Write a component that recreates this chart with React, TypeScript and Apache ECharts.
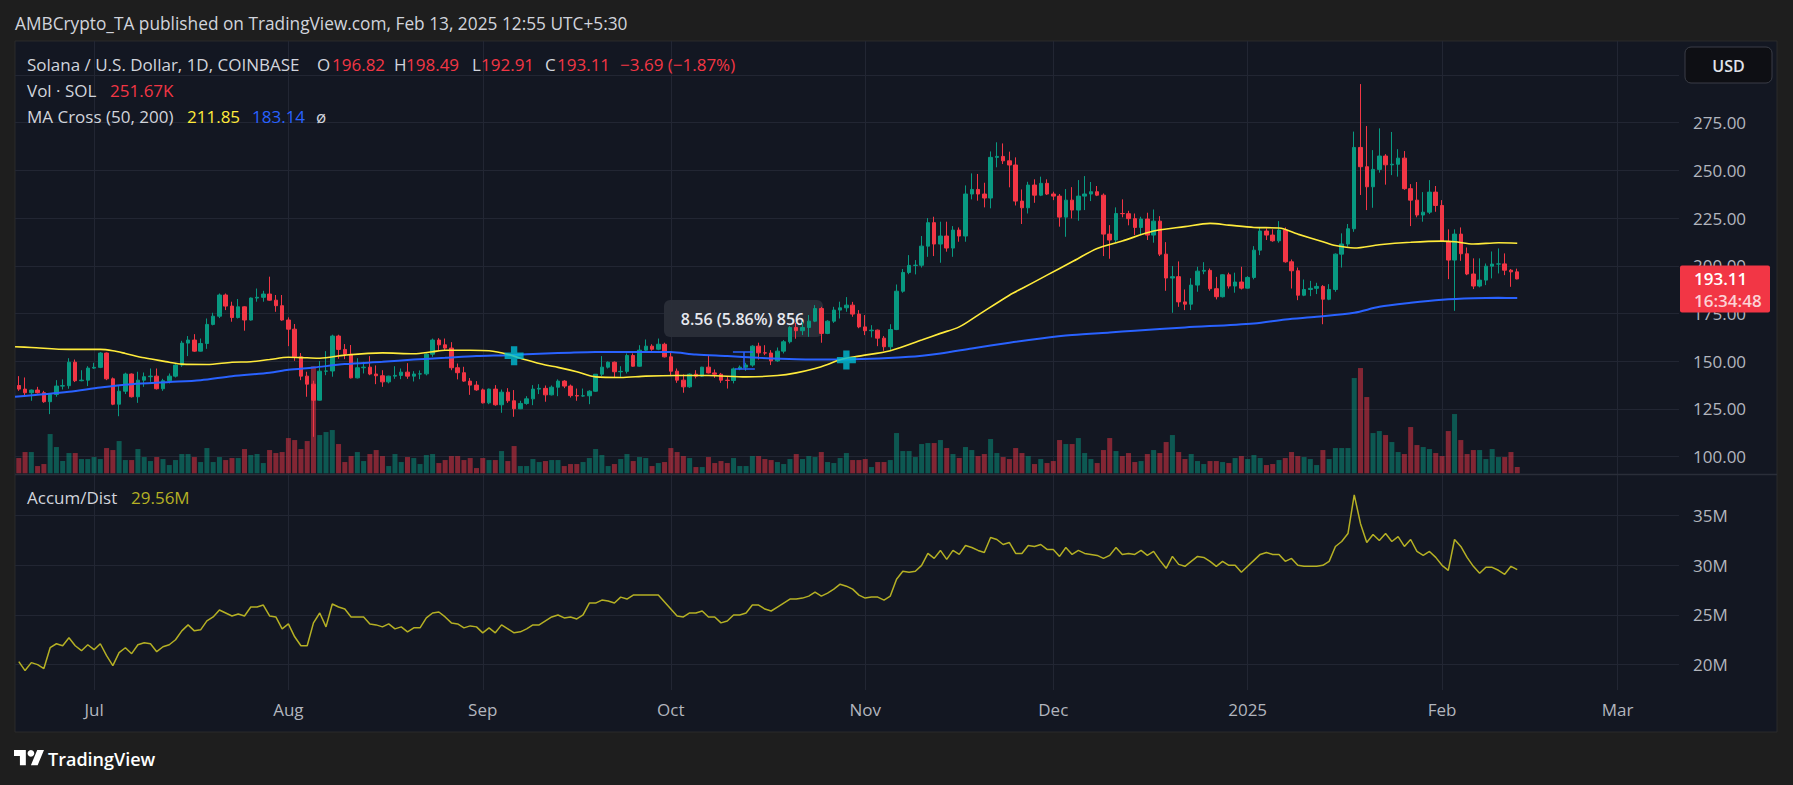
import React, { useEffect, useRef } from "react";
import * as echarts from "echarts";

const FONT = '"Open Sans", "Noto Sans", sans-serif';

// Daily candles, index 0 = 2024-06-19 ... index 239 = 2025-02-13 : [open, high, low, close]
const candles: number[][] = [
  [137.3,142.2,134.5,135.4],[135.4,141.5,132.2,133.5],[133.5,135.2,129.3,134.9],[134.9,136.6,133.1,133.5],[133.5,134.5,128.2,128.8],
  [128.8,132.8,122.3,132.6],[132.6,140.1,131.4,137.0],[137.0,140.5,135.2,137.2],[137.2,151.6,135.6,149.5],[149.5,150.9,139.1,139.8],
  [139.8,145.3,139.5,140.1],[140.1,147.4,137.0,146.4],[146.4,149.2,146.0,146.8],[146.8,154.8,146.4,154.3],[154.3,154.6,140.1,140.8],
  [140.8,141.5,127.0,127.5],[127.5,137.0,121.2,134.3],[134.3,144.0,132.8,143.3],[143.3,143.6,131.0,131.4],[131.4,144.5,128.2,140.1],
  [140.1,144.1,136.6,141.9],[141.9,146.2,139.2,142.2],[142.2,146.2,135.2,135.6],[135.6,140.8,134.5,139.8],[139.8,143.6,138.4,142.2],
  [142.2,148.5,141.5,148.0],[148.0,160.7,147.1,159.5],[159.5,163.2,152.7,161.1],[161.1,164.2,154.9,155.3],[155.3,161.9,155.1,159.3],
  [159.3,172.4,156.5,169.3],[169.3,175.4,168.8,173.6],[173.6,185.5,172.6,184.7],[184.7,185.5,176.8,178.9],[178.9,181.2,170.7,172.9],
  [172.9,182.6,172.4,178.5],[178.5,178.8,166.0,171.6],[171.6,183.4,171.3,183.1],[183.1,188.1,181.2,183.5],[183.5,186.9,181.2,185.2],
  [185.2,194.3,181.7,182.0],[182.0,184.7,175.9,179.1],[179.1,184.7,171.2,171.6],[171.6,173.0,157.9,166.8],[166.8,169.5,150.2,152.3],
  [152.3,154.3,140.1,142.2],[142.2,144.5,131.4,138.0],[138.0,139.8,110.4,129.6],[129.6,150.1,129.4,144.8],[144.8,155.3,142.7,144.9],
  [144.9,163.9,141.9,163.2],[163.2,163.9,151.3,156.2],[156.2,159.0,151.1,153.7],[153.7,158.5,141.0,141.3],[141.3,151.6,141.0,146.6],
  [146.6,149.7,143.6,146.9],[146.9,152.7,142.7,143.3],[143.3,147.8,138.0,142.4],[142.4,145.3,136.6,139.2],[139.2,142.4,138.4,142.2],
  [142.2,147.4,140.8,142.6],[142.6,146.2,140.6,144.3],[144.3,149.0,140.8,142.2],[142.2,144.8,139.4,143.3],[143.3,145.2,140.6,143.4],
  [143.4,154.1,142.6,153.7],[153.7,161.9,152.3,161.1],[161.1,162.1,155.5,158.6],[158.6,161.9,155.5,156.9],[156.9,160.0,145.3,146.6],
  [146.6,148.8,140.5,144.0],[144.0,147.1,139.2,139.6],[139.6,141.2,132.4,137.5],[137.5,139.6,134.5,135.0],[135.0,135.7,127.9,128.2],
  [128.2,135.7,127.5,135.4],[135.4,137.5,126.7,127.2],[127.2,135.2,123.0,133.8],[133.8,135.9,128.2,129.3],[129.3,134.9,120.9,125.1],
  [125.1,129.3,124.9,127.9],[127.9,131.7,127.2,130.3],[130.3,137.5,127.0,135.4],[135.4,138.0,132.8,135.8],[135.8,137.3,128.8,132.4],
  [132.4,137.3,132.1,136.4],[136.4,140.5,131.7,139.6],[139.6,140.1,135.9,137.0],[137.0,137.8,131.0,132.0],[132.0,135.7,129.3,131.8],
  [131.8,135.7,131.4,131.9],[131.9,134.8,127.5,134.3],[134.3,143.2,134.0,143.2],[143.2,152.7,142.2,146.9],[146.9,149.9,146.2,149.5],
  [149.5,149.9,141.5,144.5],[144.5,147.4,141.8,144.7],[144.7,154.1,143.6,153.0],[153.0,154.1,147.1,147.4],[147.4,158.4,147.1,155.8],
  [155.8,161.4,154.8,157.9],[157.9,158.9,155.5,156.3],[156.3,161.9,155.8,158.9],[158.9,159.7,152.0,152.3],[152.3,155.0,142.2,144.8],
  [144.8,146.2,138.7,140.1],[140.1,143.1,133.5,136.6],[136.6,143.6,136.1,143.2],[143.2,145.3,141.0,142.2],[142.2,147.1,141.8,146.9],
  [146.9,152.8,143.6,143.9],[143.9,145.7,141.3,143.2],[143.2,143.9,138.7,140.1],[140.1,142.2,135.7,139.9],[139.9,146.7,138.4,146.0],
  [146.0,147.8,145.3,146.9],[146.9,149.2,145.0,148.0],[148.0,158.4,147.1,157.9],[157.9,159.7,150.9,154.4],[154.4,158.4,153.2,154.3],
  [154.3,155.8,148.0,150.2],[150.2,157.2,149.7,155.3],[155.3,161.1,154.1,160.2],[160.2,168.4,159.3,167.7],[167.7,170.1,161.8,166.0],
  [166.0,170.7,163.7,167.7],[167.7,174.2,162.8,171.0],[171.0,179.4,170.5,177.6],[177.6,178.5,159.7,164.6],[164.6,171.5,164.2,171.0],
  [171.0,178.5,170.1,176.8],[176.8,181.2,172.4,178.0],[178.0,183.6,175.9,179.4],[179.4,181.1,173.3,174.7],[174.7,176.8,167.3,168.0],
  [168.0,174.2,163.7,166.0],[166.0,168.9,162.5,166.3],[166.3,166.6,157.9,162.1],[162.1,163.2,155.5,157.6],[157.6,169.4,155.8,166.6],
  [166.6,190.2,166.3,186.7],[186.7,198.3,185.9,196.5],[196.5,205.6,195.6,200.2],[200.2,203.0,195.5,200.3],[200.3,215.6,199.1,210.3],
  [210.3,225.0,204.7,222.6],[222.6,225.7,205.1,211.4],[211.4,223.1,201.6,215.6],[215.6,223.1,207.4,209.3],[209.3,220.8,204.7,218.7],
  [218.7,220.1,212.6,215.6],[215.6,242.1,212.6,237.6],[237.6,248.4,234.8,240.0],[240.0,248.1,234.1,237.6],[237.6,243.5,230.6,235.5],
  [235.5,259.9,230.1,256.8],[256.8,264.7,251.6,257.3],[257.3,264.1,253.3,255.0],[255.0,259.8,241.1,252.8],[252.8,256.8,231.6,233.9],
  [233.9,240.0,221.9,230.4],[230.4,244.0,227.4,242.3],[242.3,245.3,233.0,237.0],[237.0,246.7,236.5,243.2],[243.2,245.3,237.1,237.6],
  [237.6,238.8,234.4,236.5],[236.5,237.6,220.5,225.5],[225.5,240.2,215.2,234.4],[234.4,241.2,224.8,229.2],[229.2,244.9,223.6,236.5],
  [236.5,247.0,229.2,237.6],[237.6,243.9,233.9,238.8],[238.8,241.8,236.5,237.0],[237.0,237.9,205.1,216.6],[216.6,221.3,203.7,213.5],
  [213.5,230.6,212.1,227.4],[227.4,234.8,225.4,227.3],[227.3,228.8,221.2,224.7],[224.7,227.4,216.1,220.1],[220.1,225.7,216.1,224.5],
  [224.5,227.8,213.5,216.1],[216.1,229.5,212.1,223.4],[223.4,226.0,205.1,206.1],[206.1,212.4,186.9,193.6],[193.6,199.9,175.4,194.3],
  [194.3,202.3,178.5,181.1],[181.1,187.6,176.8,179.9],[179.9,193.5,176.8,189.9],[189.9,199.5,186.4,197.2],[197.2,201.9,195.6,197.6],
  [197.6,198.6,186.9,188.0],[188.0,194.2,182.4,183.8],[183.8,195.6,183.4,195.3],[195.3,196.4,188.1,189.4],[189.4,196.4,185.9,191.5],
  [191.5,199.5,187.6,188.3],[188.3,194.6,188.1,193.9],[193.9,210.3,192.9,208.2],[208.2,220.1,205.6,218.2],[218.2,219.6,213.5,216.1],
  [216.1,219.1,212.6,213.1],[213.1,223.4,212.1,218.7],[218.7,220.1,201.6,202.1],[202.1,203.3,188.1,197.4],[197.4,199.1,182.0,184.6],
  [184.6,192.8,184.1,187.6],[187.6,192.1,184.1,188.2],[188.2,191.1,185.2,189.2],[189.2,189.9,169.4,182.5],[182.5,190.4,182.0,187.6],
  [187.6,206.5,186.4,206.1],[206.1,217.0,199.1,211.4],[211.4,221.9,210.0,219.4],[219.4,270.3,217.8,262.0],[262.0,295.2,237.1,251.9],
  [251.9,273.2,229.2,241.4],[241.4,260.6,230.4,250.5],[250.5,272.0,248.8,257.5],[257.5,258.5,242.5,252.9],[252.9,270.1,247.5,253.2],
  [253.2,261.1,246.7,256.4],[256.4,260.1,239.8,240.4],[240.4,242.8,220.8,234.4],[234.4,243.9,225.4,226.6],[226.6,238.6,223.1,228.1],
  [228.1,244.9,227.1,238.6],[238.6,241.8,228.3,231.6],[231.6,234.4,212.4,212.8],[212.8,219.1,193.0,203.0],[203.0,219.1,176.4,216.6],
  [216.6,220.1,202.6,206.3],[206.3,209.6,195.1,195.7],[195.7,203.9,187.8,189.4],[189.4,203.9,188.7,192.5],[192.5,201.2,189.9,199.8],
  [199.8,207.5,193.4,200.9],[200.9,209.1,196.0,201.0],[201.0,206.5,195.1,197.7],[197.7,198.3,189.0,196.82],[196.82,198.49,192.91,193.11],
];

// Volume in thousands of SOL, one per candle
const volumesK: number[] = [
  610,850,850,290,370,1570,1050,490,810,810,
  570,570,650,570,1010,930,1290,530,530,970,
  650,490,650,570,330,530,770,770,650,450,
  1010,450,650,530,610,610,970,730,770,410,
  930,810,850,1410,1330,970,1290,4280,1530,1650,
  1730,1170,450,690,850,490,770,930,690,290,
  770,450,650,610,370,730,770,410,530,690,
  690,530,610,210,610,530,530,890,490,1090,
  290,290,570,450,490,530,530,290,370,370,
  450,610,970,730,290,370,570,770,490,650,
  610,290,410,450,1010,850,690,610,250,250,
  650,410,490,410,610,290,290,690,690,570,
  530,450,370,570,770,570,690,650,850,450,
  410,610,810,530,530,570,250,450,450,530,
  1610,890,890,650,1170,1210,1210,1330,1010,770,
  610,1050,930,690,770,1370,810,650,570,1010,
  810,690,370,570,410,490,1330,1170,1170,1410,
  810,570,410,930,1410,890,690,810,450,490,
  770,930,810,1250,1530,850,570,770,490,370,
  490,490,450,410,610,690,570,730,610,330,
  370,530,610,850,690,650,570,330,930,570,
  1010,1010,1010,3810,4210,3050,1610,1690,1530,1250,
  850,770,1850,1130,1050,970,810,690,1690,2370,
  1330,770,930,930,570,970,650,650,850,252,
];

// Accumulation/Distribution, millions, one per candle
const accDist: number[] = [
  20.3,19.4,20.2,20.0,19.6,21.7,22.1,21.9,22.7,21.9,
  21.4,22.0,21.5,22.1,20.9,19.9,21.2,21.7,21.1,22.0,
  22.2,22.1,21.3,21.8,22.0,22.5,23.4,24.0,23.4,23.5,
  24.4,24.8,25.5,25.2,24.9,25.1,24.9,25.8,25.8,26.0,
  24.9,24.8,23.6,24.1,22.8,21.9,21.9,24.2,25.2,23.8,
  26.1,25.8,25.6,24.8,24.8,24.8,24.1,24.0,23.8,24.1,
  23.6,23.8,23.3,23.7,23.7,24.7,25.2,25.3,24.8,24.2,
  24.1,23.7,23.9,23.8,23.2,23.7,23.2,24.0,23.6,23.2,
  23.3,23.6,24.0,24.0,24.4,24.8,25.0,24.7,24.8,24.6,
  25.0,26.2,26.2,26.5,26.4,26.2,26.8,26.6,27.0,27.0,
  27.0,27.0,27.0,26.3,25.6,24.9,24.8,25.2,25.2,25.4,
  24.8,24.8,24.2,24.4,25.0,25.0,25.2,26.0,26.0,25.6,
  25.4,25.8,26.2,26.6,26.6,26.7,26.9,27.3,26.9,27.2,
  27.6,28.1,27.9,27.6,27.0,26.7,26.8,26.8,26.5,26.9,
  28.6,29.4,29.3,29.4,30.0,31.2,30.7,31.5,30.6,31.5,
  31.1,32.0,31.8,31.5,31.3,32.8,32.6,32.1,32.3,31.2,
  31.2,32.0,31.9,32.1,31.6,31.6,30.9,31.8,31.1,31.5,
  31.2,31.1,31.0,30.7,31.0,31.8,31.1,31.2,31.1,31.5,
  31.0,31.4,30.5,29.7,30.9,30.1,29.9,30.4,30.9,30.8,
  30.4,29.9,30.4,30.0,30.0,29.3,29.9,30.5,31.1,31.3,
  31.1,31.1,30.4,30.7,30.0,29.9,29.9,29.9,30.0,30.4,
  31.9,32.4,33.2,37.1,34.2,32.3,33.1,32.5,33.2,32.4,
  32.9,31.9,32.6,31.4,31.0,31.4,30.8,30.0,29.5,32.6,
  31.9,30.8,29.9,29.2,29.8,29.8,29.5,29.1,29.9,29.56,
];

// Moving averages: [dayIndex, value]
const maFast: number[][] = [
  [-0.6,157.6],[2,157.2],[8,156.2],[13,156.2],[15,155.5],[17,154.1],[20,151.8],[24,149.5],[26,148.5],[30,148.3],
  [34,149.5],[37,149.7],[40,150.9],[43,152.1],[46,151.8],[48,151.6],[52,153.2],[58,154.4],[63,153.9],[66,155.0],
  [68,155.8],[72,155.8],[75,155.5],[78,153.6],[81,150.6],[84,148.0],[86,146.8],[89,144.5],[92,141.8],[96,141.5],
  [100,142.2],[105,142.5],[110,142.5],[116,141.8],[121,142.5],[124,143.9],[127,146.2],[129,148.3],[131,150.8],[134,152.7],
  [139,155.5],[144,161.1],[147,164.6],[150,168.0],[153,174.2],[158,184.6],[160,188.1],[164,195.1],[168,202.1],[172,209.1],
  [176,213.0],[181,218.2],[186,220.5],[190,222.2],[193,221.3],[197,220.1],[201,219.8],[204,216.6],[208,212.6],[210,210.6],
  [213,209.3],[217,211.0],[222,212.3],[227,212.9],[229,212.6],[232,211.4],[236,212.1],[239,211.85],
];
const maSlow: number[][] = [
  [-0.6,131.4],[8,134.0],[13,136.3],[18,138.0],[24,139.1],[29,140.1],[34,142.2],[40,144.0],[43,145.5],[47,146.7],
  [52,148.5],[58,149.7],[63,150.9],[68,151.8],[73,152.7],[78,153.2],[84,154.1],[88,154.5],[92,154.8],[100,154.9],
  [104,154.8],[108,153.5],[113,152.7],[118,151.8],[124,151.1],[131,150.9],[142,152.3],[147,154.1],[152,156.7],[158,159.7],
  [163,161.9],[168,163.7],[174,165.1],[178,166.0],[186,167.7],[197,169.8],[202,171.9],[207,173.3],[213,175.4],[217,178.5],
  [222,180.6],[227,182.2],[232,183.0],[236,183.2],[239,183.14],
];

const crossPoints: number[][] = [[79, 152.9], [132, 150.6]];
const rangeSegments: number[][][] = [
  [[113.9, 154.8], [117.1, 154.8]],
  [[115.7, 154.8], [115.7, 146.3]],
  [[114.2, 146.3], [117.4, 146.3]],
];

const monthTicks = [12, 43, 74, 104, 135, 165, 196, 227, 255];
const monthLabels = ["Jul", "Aug", "Sep", "Oct", "Nov", "Dec", "2025", "Feb", "Mar"];
const priceTicks = [100, 125, 150, 175, 200, 225, 250, 275];
const adTicks = [20, 25, 30, 35];

const titleText = "AMBCrypto_TA published on TradingView.com, Feb 13, 2025 12:55 UTC+5:30";
const ohlcText = ["196.82", "198.49", "192.91", "193.11"];
const changeText = "\u22123.69 (\u22121.87%)";
const volText = "251.67K";
const maText = ["211.85", "183.14"];
const adText = "29.56M";
const lastPrice = "193.11";
const countdown = "16:34:48";
const rangeLabel = "8.56 (5.86%) 856";

const X_MIN = -0.606;
const X_MAX = 264.8;

const UP = "#089981";
const DN = "#f23645";
const VOL_UP = "rgba(8,153,129,0.5)";
const VOL_DN = "rgba(242,54,69,0.5)";
const GRID = "#222633";
const AXIS_TXT = "#b2b5be";
const GRAY = "#d1d4dc";
const AD_COLOR = "#b5b024";

const logoPath = "M14 22H7V11H0V4h14v18zM28 22h-8l7.5-18h8L28 22z";
echarts.graphic.registerShape("tvlogo", (echarts.graphic as any).extendPath(logoPath, {}));

function txt(x: number, y: number, text: string, fill: string, size = 17, weight = "normal", align = "left", z = 50) {
  return {
    type: "text",
    x,
    y,
    z,
    silent: true,
    style: { text, fill, font: `${weight} ${size}px ${FONT}`, align, verticalAlign: "middle" },
  };
}

export default function App() {
  const ref = useRef<HTMLDivElement>(null);

  useEffect(() => {
    document.body.style.margin = "0";
    document.body.style.overflow = "hidden";
    if (!ref.current) return;
    const chart = echarts.init(ref.current, null, { renderer: "svg" });

    const gridBase = { left: 15, right: 114 };

    const option: any = {
      animation: false,
      backgroundColor: "#1e1e1e",
      textStyle: { fontFamily: FONT },
      grid: [
        { ...gridBase, top: 74.9, height: 381.8 },
        { ...gridBase, top: 363.3, height: 110 },
        { ...gridBase, top: 515.7, height: 148.9 },
        { ...gridBase, top: 41, height: 649 },
      ],
      xAxis: [
        { type: "value", gridIndex: 0, min: X_MIN, max: X_MAX, show: false },
        { type: "value", gridIndex: 1, min: X_MIN, max: X_MAX, show: false },
        { type: "value", gridIndex: 2, min: X_MIN, max: X_MAX, show: false },
        {
          type: "value",
          gridIndex: 3,
          min: X_MIN,
          max: X_MAX,
          axisLine: { show: false },
          axisTick: { show: false, customValues: monthTicks },
          axisLabel: {
            customValues: monthTicks,
            color: AXIS_TXT,
            fontSize: 17,
            fontFamily: FONT,
            margin: 11,
            formatter: (v: number) => {
              const k = monthTicks.indexOf(Math.round(v));
              return k >= 0 ? monthLabels[k] : "";
            },
          },
          splitLine: { show: true, lineStyle: { color: GRID, width: 1 } },
        },
      ],
      yAxis: [
        {
          type: "value",
          gridIndex: 0,
          position: "right",
          min: 100,
          max: 300,
          interval: 25,
          axisLine: { show: false },
          axisTick: { show: false },
          axisLabel: {
            color: AXIS_TXT,
            fontSize: 17,
            fontFamily: FONT,
            margin: 14,
            formatter: (v: number) => (priceTicks.includes(v) ? v.toFixed(2) : ""),
          },
          splitLine: { show: true, lineStyle: { color: GRID, width: 1 } },
        },
        { type: "value", gridIndex: 1, min: 0, max: 4400, show: false },
        {
          type: "value",
          gridIndex: 2,
          position: "right",
          min: 20,
          max: 35,
          interval: 5,
          axisLine: { show: false },
          axisTick: { show: false },
          axisLabel: {
            color: AXIS_TXT,
            fontSize: 17,
            fontFamily: FONT,
            margin: 14,
            formatter: (v: number) => (adTicks.includes(v) ? `${v}M` : ""),
          },
          splitLine: { show: true, lineStyle: { color: GRID, width: 1 } },
        },
        { type: "value", gridIndex: 3, min: 0, max: 1, show: false },
      ],
      series: [
        {
          type: "bar",
          xAxisIndex: 1,
          yAxisIndex: 1,
          barWidth: 5,
          z: 1,
          silent: true,
          data: volumesK.map((v, i) => ({
            value: [i, v],
            itemStyle: { color: candles[i][3] >= candles[i][0] ? VOL_UP : VOL_DN },
          })),
        },
        {
          type: "candlestick",
          xAxisIndex: 0,
          yAxisIndex: 0,
          barWidth: 4,
          z: 3,
          silent: true,
          dimensions: ["day", "open", "close", "lowest", "highest"],
          encode: { x: 0, y: [1, 2, 3, 4] },
          itemStyle: { color: UP, color0: DN, borderColor: UP, borderColor0: DN, borderWidth: 1 },
          data: candles.map((c, i) => [i, c[0], c[3], c[2], c[1]]),
        },
        {
          type: "line",
          xAxisIndex: 0,
          yAxisIndex: 0,
          data: maSlow,
          showSymbol: false,
          smooth: 0.3,
          z: 4,
          silent: true,
          lineStyle: { color: "#2962ff", width: 2 },
        },
        {
          type: "line",
          xAxisIndex: 0,
          yAxisIndex: 0,
          data: maFast,
          showSymbol: false,
          smooth: 0.3,
          z: 4,
          silent: true,
          lineStyle: { color: "#ffeb3b", width: 1.6 },
        },
        {
          type: "lines",
          coordinateSystem: "cartesian2d",
          xAxisIndex: 0,
          yAxisIndex: 0,
          z: 5,
          silent: true,
          lineStyle: { color: "#2962ff", width: 1.5, opacity: 1 },
          data: rangeSegments.map((s) => ({ coords: s })),
        },
        {
          type: "scatter",
          xAxisIndex: 0,
          yAxisIndex: 0,
          z: 6,
          silent: true,
          symbol: "path://M6,0H12V6H18V12H12V18H6V12H0V6H6Z",
          symbolSize: 19,
          itemStyle: { color: "#00bcd4" },
          data: crossPoints,
        },
        {
          type: "line",
          xAxisIndex: 2,
          yAxisIndex: 2,
          data: accDist.map((v, i) => [i, v]),
          showSymbol: false,
          clip: false,
          silent: true,
          lineStyle: { color: AD_COLOR, width: 1.5 },
        },
      ],
      graphic: {
        elements: [
          {
            type: "rect",
            z: -10,
            silent: true,
            shape: { x: 15, y: 41, width: 1762, height: 691 },
            style: { fill: "#131722", stroke: "#2b2b2b", lineWidth: 1 },
          },
          {
            type: "line",
            z: 10,
            silent: true,
            shape: { x1: 15, y1: 474.5, x2: 1777, y2: 474.5 },
            style: { stroke: "#2a2e39", lineWidth: 1.5 },
          },
          txt(15, 23.5, titleText, "#d1d4dc", 17.3),
          txt(27, 64, "Solana / U.S. Dollar, 1D, COINBASE", GRAY),
          txt(317, 64, "O", GRAY),
          txt(332, 64, ohlcText[0], DN),
          txt(394, 64, "H", GRAY),
          txt(406, 64, ohlcText[1], DN),
          txt(472, 64, "L", GRAY),
          txt(481, 64, ohlcText[2], DN),
          txt(545, 64, "C", GRAY),
          txt(557, 64, ohlcText[3], DN),
          txt(620, 64, changeText, DN),
          txt(27, 90.5, "Vol \u00b7 SOL", GRAY),
          txt(110, 90.5, volText, DN),
          txt(27, 116.5, "MA Cross (50, 200)", GRAY),
          txt(187, 116.5, maText[0], "#ffeb3b"),
          txt(252, 116.5, maText[1], "#2962ff"),
          txt(316, 116.5, "\u00f8", GRAY),
          txt(27, 497, "Accum/Dist", GRAY),
          txt(131, 497, adText, AD_COLOR),
          {
            type: "rect",
            z: 100,
            silent: true,
            shape: { x: 1685, y: 47, width: 87, height: 36, r: 6 },
            style: { fill: "#0e0f14", stroke: "#3a3d46", lineWidth: 1 },
          },
          txt(1728.5, 65.5, "USD", "#e0e3eb", 16, "600", "center", 101),
          {
            type: "rect",
            z: 100,
            silent: true,
            shape: { x: 1680, y: 265.5, width: 90, height: 47, r: 2 },
            style: { fill: "#f23645" },
          },
          txt(1694, 278.8, lastPrice, "#ffffff", 17, "600", "left", 101),
          txt(1694, 300.5, countdown, "rgba(255,255,255,0.78)", 17, "600", "left", 101),
          {
            type: "rect",
            z: 1,
            silent: true,
            shape: { x: 664, y: 300, width: 159, height: 37, r: 6 },
            style: { fill: "rgba(42,46,57,0.95)" },
          },
          txt(742.5, 319, rangeLabel, "#e6e8ee", 16, "600", "center", 1),
          {
            type: "tvlogo",
            z: 100,
            silent: true,
            x: 14,
            y: 746.6,
            scaleX: 0.845,
            scaleY: 0.845,
            style: { fill: "#ffffff" },
          },
          {
            type: "circle",
            z: 100,
            silent: true,
            shape: { cx: 14 + 20 * 0.845, cy: 746.6 + 8 * 0.845, r: 4 * 0.845 },
            style: { fill: "#ffffff" },
          },
          txt(48, 759, "TradingView", "#ffffff", 18, "600", "left", 100),
        ],
      },
    };

    chart.setOption(option);
    return () => chart.dispose();
  }, []);

  return <div ref={ref} style={{ width: 1793, height: 785 }} />;
}
